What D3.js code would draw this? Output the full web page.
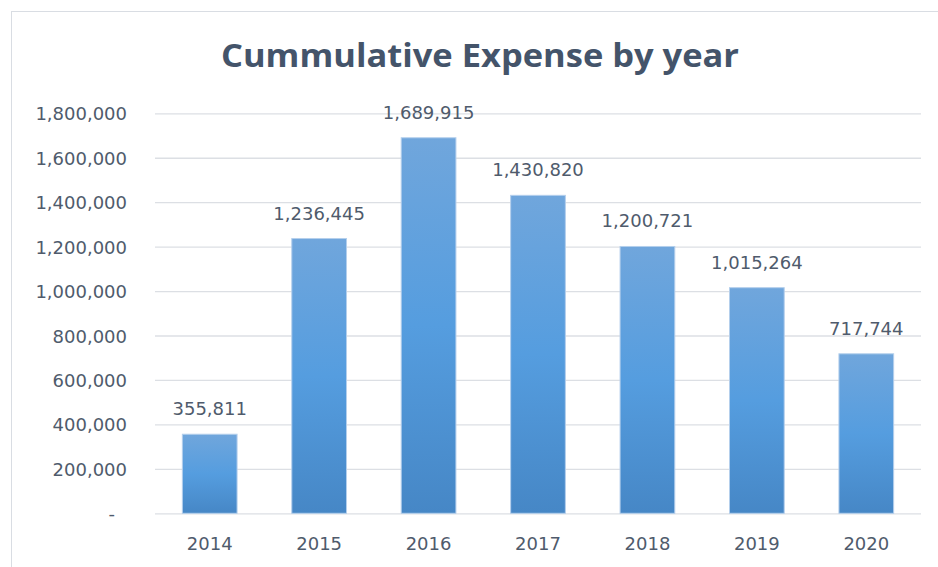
<!DOCTYPE html>
<html>
<head>
<meta charset="utf-8">
<script src="https://cdn.jsdelivr.net/npm/d3@7"></script>
<style>
  html, body { margin: 0; padding: 0; background: #ffffff; }
  svg { display: block; }
</style>
</head>
<body>
<svg id="chart" width="938" height="567"></svg>
<script>
// Yearly cumulative expense
const years = ["2014", "2015", "2016", "2017", "2018", "2019", "2020"];
const expense = [355811, 1236445, 1689915, 1430820, 1200721, 1015264, 717744];
const yTicks = [0, 200000, 400000, 600000, 800000, 1000000, 1200000, 1400000, 1600000, 1800000];
const chartTitle = "Cummulative Expense by year";

const svg = d3.select("#chart");
const W = 938, H = 567;
const margin = { left: 155, right: 17, top: 113.3, bottom: 53.7 };
const textColor = "#4f5b6c";
const gridColor = "#dcdfe4";
const labelFont = "'DejaVu Sans', sans-serif";
const labelSize = "18px";

// chart frame (top and left edges visible)
svg.append("rect")
  .attr("x", 11.5).attr("y", 11.5)
  .attr("width", W).attr("height", H)
  .attr("fill", "#ffffff")
  .attr("stroke", "#d9dde3").attr("stroke-width", 1);

const x = d3.scaleBand()
  .domain(years)
  .range([margin.left, W - margin.right])
  .paddingInner(0.5).paddingOuter(0.25);

const y = d3.scaleLinear()
  .domain([0, 1800000])
  .range([H - margin.bottom, margin.top]);

// bar gradient
const defs = svg.append("defs");
const grad = defs.append("linearGradient")
  .attr("id", "barFill").attr("x1", 0).attr("y1", 0).attr("x2", 0).attr("y2", 1);
grad.append("stop").attr("offset", "0%").attr("stop-color", "#70a6dc");
grad.append("stop").attr("offset", "50%").attr("stop-color", "#559ddf");
grad.append("stop").attr("offset", "100%").attr("stop-color", "#4687c6");

// gridlines and value axis labels
const fmt = d3.format(",");
const yAxis = d3.axisLeft(y)
  .tickValues(yTicks)
  .tickSize(-(W - margin.right - margin.left))
  .tickPadding(28)
  .tickFormat(d => d === 0 ? "-" : fmt(d));

const gy = svg.append("g")
  .attr("transform", `translate(${margin.left},0)`)
  .call(yAxis);
gy.select(".domain").remove();
gy.selectAll(".tick line").attr("stroke", gridColor).attr("stroke-width", 1.3);
gy.selectAll(".tick text")
  .attr("fill", textColor)
  .style("font-family", labelFont)
  .style("font-size", labelSize)
  .attr("dy", "0.36em")
  .attr("dx", d => d === 0 ? -12 : 0);

// bars
svg.append("g").selectAll("rect")
  .data(years)
  .join("rect")
  .attr("x", d => x(d))
  .attr("y", (d, i) => y(expense[i]))
  .attr("width", x.bandwidth())
  .attr("height", (d, i) => y(0) - y(expense[i]))
  .attr("fill", "url(#barFill)")
  .attr("stroke", "#b4cfec")
  .attr("stroke-width", 1);

// value labels
svg.append("g").selectAll("text")
  .data(years)
  .join("text")
  .attr("x", d => x(d) + x.bandwidth() / 2)
  .attr("y", (d, i) => y(expense[i]) - 19)
  .attr("text-anchor", "middle")
  .attr("fill", textColor)
  .style("font-family", labelFont)
  .style("font-size", labelSize)
  .text((d, i) => fmt(expense[i]));

// year labels
const xAxis = d3.axisBottom(x).tickSize(0).tickPadding(24);
const gx = svg.append("g")
  .attr("transform", `translate(0,${H - margin.bottom})`)
  .call(xAxis);
gx.select(".domain").remove();
gx.selectAll(".tick text")
  .attr("fill", textColor)
  .style("font-family", labelFont)
  .style("font-size", labelSize);

// title
svg.append("text")
  .attr("x", 480).attr("y", 66.7)
  .attr("text-anchor", "middle")
  .attr("fill", "#44546a")
  .style("font-family", "'Open Sans', sans-serif")
  .style("font-weight", "700")
  .style("font-size", "32px")
  .attr("textLength", 518)
  .attr("lengthAdjust", "spacingAndGlyphs")
  .text(chartTitle);
</script>
</body>
</html>
